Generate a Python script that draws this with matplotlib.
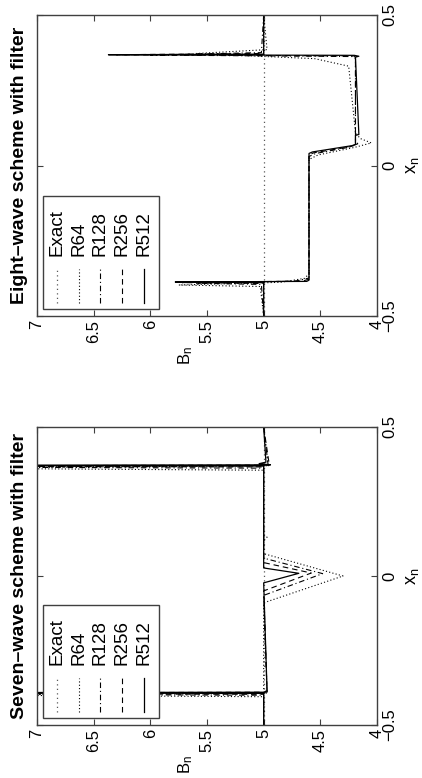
import matplotlib
matplotlib.use("Agg")
import matplotlib.pyplot as plt
from matplotlib.patches import Rectangle

plt.rcParams['font.family'] = ['Liberation Sans', 'DejaVu Sans']
plt.rcParams['axes.unicode_minus'] = True

W, H = 422, 778

# ---------------- data ----------------
titles = ["Eight\u2013wave scheme with filter", "Seven\u2013wave scheme with filter"]
series_names = ["Exact", "R64", "R128", "R256", "R512"]
u_ticks = [4, 4.5, 5, 5.5, 6, 6.5, 7]
u_tick_labels = ["4", "4.5", "5", "5.5", "6", "6.5", "7"]
xn_ticks = [-0.5, 0, 0.5]
xn_tick_labels = ["\u22120.5", "0", "0.5"]
x_label = r"$\mathregular{x_n}$"
y_label = r"$\mathregular{B_n}$"

# Eight-wave scheme (x_n, B_n)
eight_exact_x = [-0.5, 0.5]
eight_exact_u = [5.0, 5.0]
eight_r64_x = [-0.5, -0.402, -0.397, -0.388, -0.375, -0.36, 0.02, 0.035, 0.06, 0.075, 0.09, 0.11, 0.33, 0.355, 0.372, 0.385, 0.5]
eight_r64_u = [5.0, 5.03, 5.75, 4.85, 4.64, 4.60, 4.60, 4.52, 4.20, 4.05, 4.15, 4.19, 4.25, 4.55, 5.60, 4.97, 5.0]
eight_r128_x = [-0.5, -0.395, -0.391, -0.384, -0.374, 0.03, 0.04, 0.06, 0.072, 0.085, 0.355, 0.362, 0.367, 0.375, 0.5]
eight_r128_u = [5.0, 5.02, 5.60, 4.72, 4.60, 4.60, 4.54, 4.26, 4.17, 4.19, 4.19, 4.22, 6.00, 5.02, 5.0]
eight_r256_x = [-0.5, -0.392, -0.389, -0.384, -0.378, 0.035, 0.042, 0.062, 0.068, 0.358, 0.364, 0.368, 0.372, 0.5]
eight_r256_u = [5.0, 5.0, 5.72, 4.66, 4.60, 4.60, 4.56, 4.24, 4.19, 4.19, 4.20, 6.30, 5.0, 5.0]
eight_r512_x = [-0.5, -0.389, -0.387, -0.385, -0.381, 0.040, 0.045, 0.066, 0.070, 0.100, 0.103, 0.360, 0.363, 0.366, 0.368, 0.370, 0.5]
eight_r512_u = [5.0, 5.0, 5.78, 4.62, 4.60, 4.60, 4.57, 4.22, 4.19, 4.19, 4.16, 4.19, 4.16, 4.20, 6.37, 5.0, 5.0]

# Seven-wave scheme (x_n, B_n)
seven_exact_x = [-0.5, 0.5]
seven_exact_u = [5.0, 5.0]
seven_r64_x = [-0.5, -0.405, -0.399, -0.393, -0.38, -0.09, 0.0, 0.075, 0.12, 0.13, 0.14, 0.355, 0.362, 0.370, 0.5]
seven_r64_u = [5.0, 5.0, 8.0, 4.97, 5.0, 5.0, 4.30, 5.0, 5.0, 4.97, 5.0, 5.0, 8.0, 4.96, 5.0]
seven_r128_x = [-0.5, -0.400, -0.396, -0.392, -0.065, 0.008, 0.060, 0.362, 0.366, 0.370, 0.5]
seven_r128_u = [5.0, 5.0, 8.5, 4.97, 5.0, 4.48, 5.0, 5.0, 8.5, 4.96, 5.0]
seven_r256_x = [-0.5, -0.397, -0.394, -0.390, -0.050, 0.010, 0.045, 0.366, 0.369, 0.372, 0.5]
seven_r256_u = [5.0, 5.0, 9.0, 4.97, 5.0, 4.58, 5.0, 5.0, 9.0, 4.95, 5.0]
seven_r512_x = [-0.5, -0.394, -0.392, -0.390, -0.386, -0.023, 0.009, 0.027, 0.369, 0.371, 0.373, 0.377, 0.382, 0.5]
seven_r512_u = [5.0, 5.0, 9.5, 5.0, 4.97, 5.0, 4.69, 5.0, 5.0, 9.5, 4.94, 5.04, 4.98, 5.0]

panels = [
    dict(title=titles[0],
         xs=[eight_exact_x, eight_r64_x, eight_r128_x, eight_r256_x, eight_r512_x],
         us=[eight_exact_u, eight_r64_u, eight_r128_u, eight_r256_u, eight_r512_u]),
    dict(title=titles[1],
         xs=[seven_exact_x, seven_r64_x, seven_r128_x, seven_r256_x, seven_r512_x],
         us=[seven_exact_u, seven_r64_u, seven_r128_u, seven_r256_u, seven_r512_u]),
]

# ---------------- styles ----------------
styles = [
    dict(color='0.35', lw=0.9, dashes=(1.0, 2.6)),
    dict(color='black', lw=0.8, dashes=(1.0, 2.0)),
    dict(color='black', lw=0.8, dashes=(5.0, 2.5, 1.0, 2.5)),
    dict(color='black', lw=0.8, dashes=(5.0, 3.5)),
    dict(color='black', lw=0.9, linestyle='-'),
]
frame_color = '0.25'

# axes rectangles in pixels: (left, top, right, bottom)
axes_px = [(37, 15, 377, 316), (37, 427, 377, 725)]

fig = plt.figure(figsize=(W / 100, H / 100), dpi=100)

for p, (l, t, r, b) in zip(panels, axes_px):
    ax = fig.add_axes([l / W, 1 - b / H, (r - l) / W, (b - t) / H])
    for xs, us, st in zip(p['xs'], p['us'], styles):
        ax.plot(us, xs, **st)
    ax.set_xlim(7, 4)
    ax.set_ylim(-0.5, 0.5)
    ax.set_xticks(u_ticks)
    ax.set_xticklabels(u_tick_labels, rotation=90, fontsize=12)
    ax.set_yticks(xn_ticks)
    ax.set_yticklabels(xn_tick_labels, rotation=90, fontsize=12)
    ax.tick_params(axis='both', direction='in', length=4, width=0.8, color=frame_color,
                   top=True, bottom=True, left=True, right=True)
    ax.tick_params(axis='x', pad=3)
    ax.tick_params(axis='y', labelleft=False, labelright=True, pad=4)
    for lab in ax.get_yticklabels():
        lab.set_va('center')
        lab.set_ha('left')
    for sp in ax.spines.values():
        sp.set_color(frame_color)
        sp.set_linewidth(1.0)

    cy = (t + b) / 2
    cx = (l + r) / 2
    fig.text(20 / W, 1 - cy / H, p['title'], rotation=90, ha='center', va='center',
             fontsize=14, fontweight='bold')
    fig.text(404 / W, 1 - cy / H, x_label, rotation=90, ha='left', va='center', fontsize=13)
    fig.text(186 / W, 1 - (b + 30) / H, y_label, rotation=90, ha='center', va='top', fontsize=12)

    # manual (rotated) legend, in pixel offsets from axes bottom-left
    aw, ah = r - l, b - t
    fx = lambda d: d / aw
    fy = lambda d: d / ah
    ax.add_patch(Rectangle((fx(6), fy(7)), fx(116), fy(113), transform=ax.transAxes,
                           facecolor='white', edgecolor=frame_color, lw=1.0, zorder=5,
                           clip_on=False))
    for i, (name, st) in enumerate(zip(series_names, styles)):
        xc = fx(20 + 21.7 * i)
        ax.plot([xc, xc], [fy(13), fy(47)], transform=ax.transAxes, zorder=6,
                clip_on=False, **st)
        ax.text(xc, fy(60), name, transform=ax.transAxes, rotation=90, ha='center',
                va='bottom', fontsize=13.5, zorder=6)

fig.savefig("out.png", dpi=100)
